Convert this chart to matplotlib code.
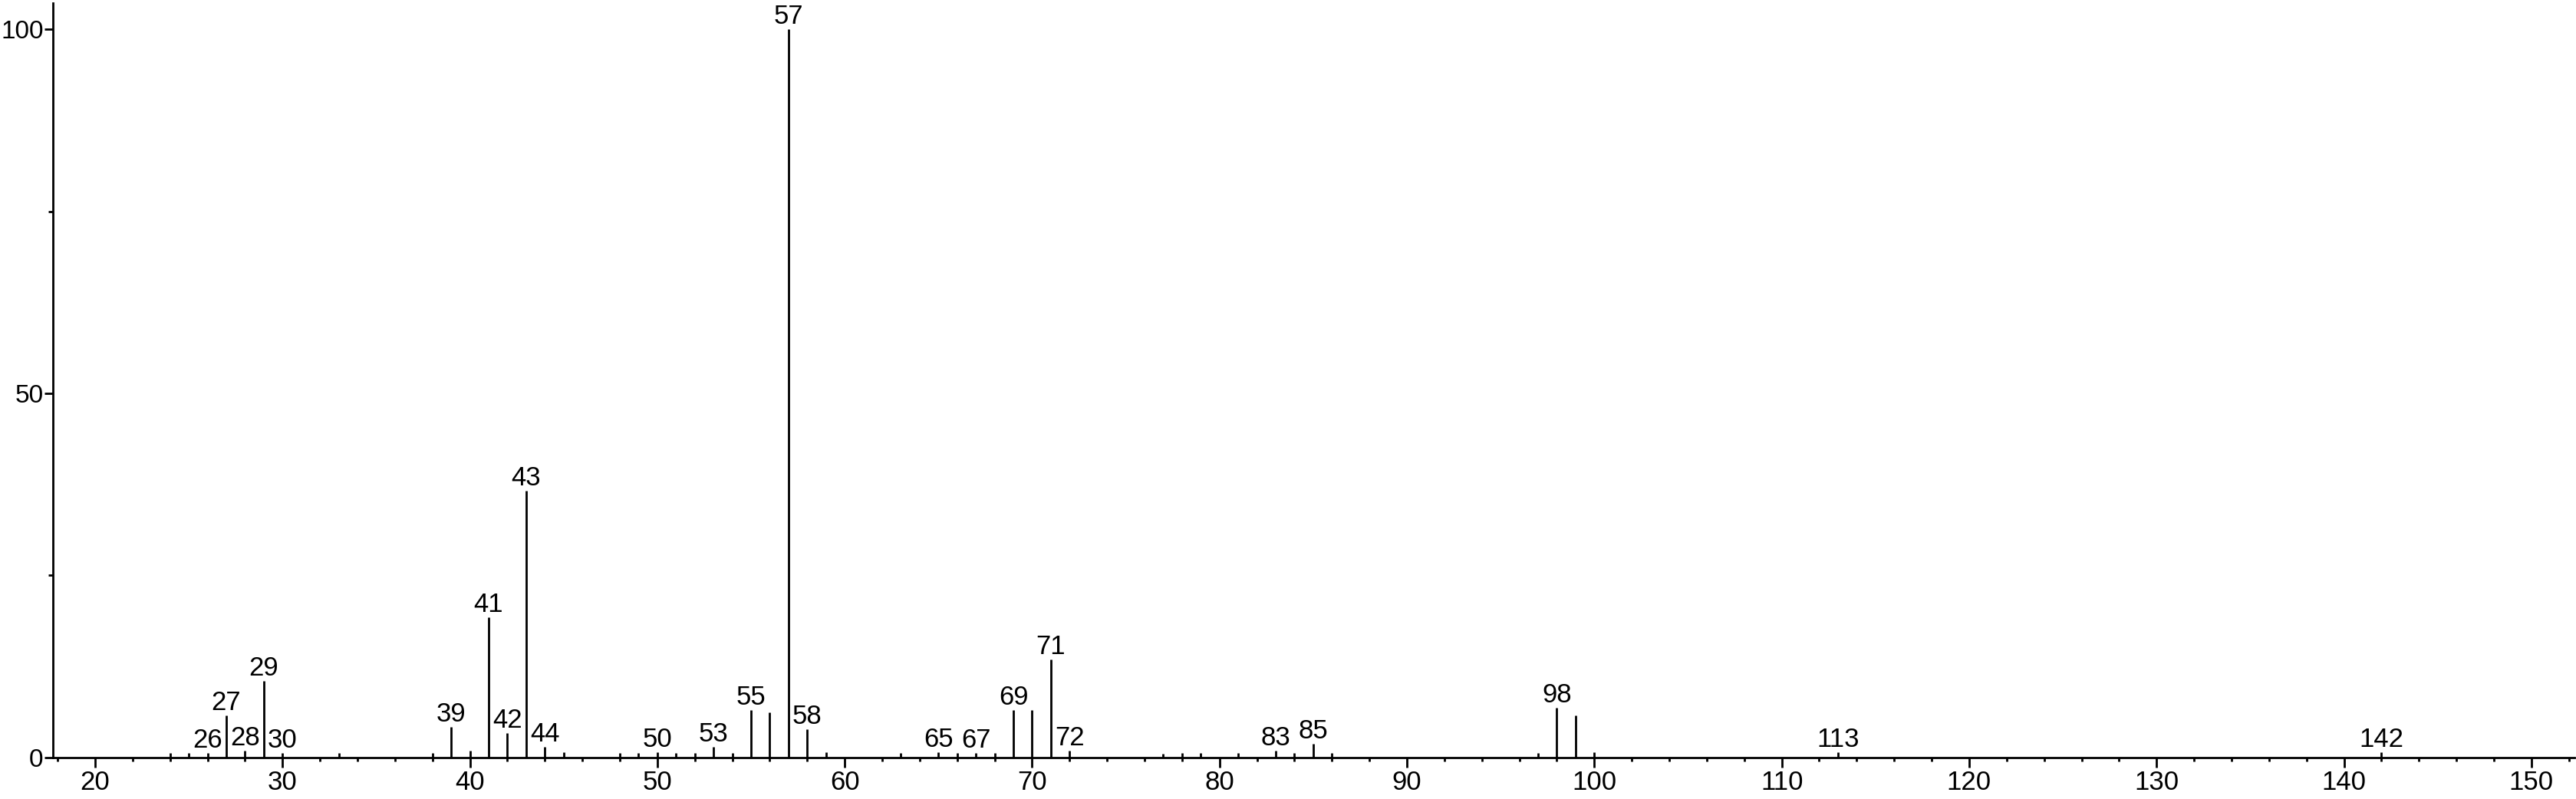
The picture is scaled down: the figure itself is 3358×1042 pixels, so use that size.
import matplotlib
matplotlib.use("Agg")
import matplotlib.pyplot as plt
from matplotlib.ticker import MultipleLocator

plt.rcParams['font.family'] = ['Liberation Sans', 'DejaVu Sans']

# m/z and relative intensity
mz = [24, 25, 26, 27, 28, 29, 30, 33, 38, 39, 40, 41, 42, 43, 44, 45,
      48, 49, 50, 51, 52, 53, 54, 55, 56, 57, 58, 59, 63, 65, 66, 67, 68,
      69, 70, 71, 72, 77, 78, 79, 81, 83, 84, 85, 86, 97, 98, 99, 100,
      113, 142]
intensity = [0.6, 0.6, 0.6, 5.8, 0.9, 10.5, 0.6, 0.6, 0.6, 4.2, 0.9, 19.2, 3.3, 36.6, 1.4, 0.7,
             0.6, 0.6, 0.7, 0.6, 0.6, 1.4, 0.6, 6.5, 6.2, 100.0, 3.9, 0.7, 0.6, 0.7, 0.6, 0.6, 0.6,
             6.5, 6.5, 13.4, 0.9, 0.5, 0.6, 0.6, 0.6, 0.9, 0.6, 1.9, 0.6, 0.6, 6.8, 5.8, 0.7,
             0.7, 0.7]
labeled = [26, 27, 28, 29, 30, 39, 41, 42, 43, 44, 50, 53, 55, 57, 58,
           65, 67, 69, 71, 72, 83, 85, 98, 113, 142]

fig = plt.figure(figsize=(33.58, 10.42), dpi=100)
ax = fig.add_axes([69 / 3358, 54.3 / 1042, (3356 - 69) / 3358, (1038 - 54.3) / 1042])

ax.vlines(mz, 0, intensity, colors='black', linewidth=2.0)

for m, h in zip(mz, intensity):
    if m in labeled:
        ax.annotate(str(m), (m, h), xytext=(0, 0), textcoords='offset points',
                    ha='center', va='bottom', fontsize=25, annotation_clip=False)

ax.set_xlim(17.75, 152.3)
ax.set_ylim(0, 103.6)

ax.spines['top'].set_visible(False)
ax.spines['right'].set_visible(False)
ax.spines['left'].set_linewidth(2)
ax.spines['bottom'].set_linewidth(2)

ax.xaxis.set_major_locator(MultipleLocator(10))
ax.xaxis.set_minor_locator(MultipleLocator(2))
ax.yaxis.set_major_locator(MultipleLocator(50))
ax.yaxis.set_minor_locator(MultipleLocator(25))

ax.tick_params(axis='x', which='major', direction='out', length=9, width=2,
               labelsize=25, pad=3)
ax.tick_params(axis='x', which='minor', direction='out', length=3.8, width=2)
ax.tick_params(axis='y', which='major', direction='out', length=8, width=2,
               labelsize=24, pad=1)
ax.tick_params(axis='y', which='minor', direction='out', length=4, width=2)

fig.savefig('out.png', dpi=100)
